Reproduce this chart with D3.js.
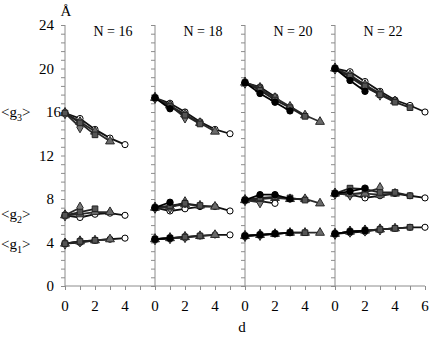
<!DOCTYPE html>
<html>
<head>
<meta charset="utf-8">
<script src="https://cdn.jsdelivr.net/npm/d3@7"></script>
<style>
  body { margin: 0; background: #fff; }
  text { font-family: "Liberation Serif", "DejaVu Serif", serif; }
</style>
</head>
<body>
<div id="chart"></div>
<script>
// Panels and axis ticks
const panelLabels = ["N = 16", "N = 18", "N = 20", "N = 22"];
const yTicks = [0, 4, 8, 12, 16, 20, 24];
const xTickLabels = [[0, 2, 4], [0, 2, 4], [0, 2, 4], [0, 2, 4, 6]];
const dMax = 6;

// N = 16
const seriesN16 = ["diamond", "square", "triangle", "openCircle"];
const g3N16 = [[15.9, 14.6], [15.9, 15.0, 13.9], [15.9, 15.1, 14.2, 13.3], [15.9, 15.4, 14.4, 13.6, 13.0]];
const g2N16 = [[6.5, 7.2], [6.5, 6.8, 7.1], [6.5, 6.6, 6.8, 6.8], [6.5, 6.3, 6.6, 6.7, 6.5]];
const g1N16 = [[3.9, 4.1], [3.9, 4.1, 4.2], [3.9, 4.1, 4.2, 4.3], [3.9, 4.0, 4.2, 4.3, 4.4]];

// N = 18
const seriesN18 = ["filledCircle", "diamond", "square", "triangle", "openCircle"];
const g3N18 = [[17.3, 16.3], [17.3, 16.6, 15.5], [17.3, 16.5, 15.7, 14.9], [17.3, 16.6, 15.8, 15.0, 14.2], [17.3, 16.8, 16.0, 15.1, 14.4, 14.0]];
const g2N18 = [[7.2, 7.7], [7.2, 7.2, 7.7], [7.2, 7.4, 7.6, 7.4], [7.2, 7.3, 7.5, 7.4, 7.3], [7.2, 6.9, 7.1, 7.3, 7.3, 6.9]];
const g1N18 = [[4.3, 4.4], [4.3, 4.4, 4.5], [4.3, 4.4, 4.5, 4.6], [4.3, 4.4, 4.5, 4.6, 4.7], [4.3, 4.4, 4.5, 4.6, 4.7, 4.7]];

// N = 20
const seriesN20 = ["diamond", "openCircle", "filledCircle", "square", "triangle"];
const g3N20 = [[18.7, 18.2], [18.7, 18.3, 17.4], [18.7, 17.7, 16.9, 16.1], [18.7, 18.0, 17.1, 16.4, 15.6], [18.7, 18.1, 17.3, 16.5, 15.7, 15.1]];
const g2N20 = [[7.9, 7.7], [7.9, 7.8, 7.6], [7.9, 8.4, 8.4, 8.0], [7.9, 8.1, 8.2, 8.1, 7.9], [7.9, 8.0, 8.1, 8.0, 8.0, 7.6]];
const g1N20 = [[4.6, 4.7], [4.6, 4.7, 4.8], [4.6, 4.7, 4.8, 4.9], [4.6, 4.7, 4.8, 4.9, 4.9], [4.6, 4.7, 4.8, 4.9, 4.9, 4.9]];

// N = 22
const seriesN22 = ["filledCircle", "diamond", "triangle", "square", "openCircle"];
const g3N22 = [[20.0, 18.9, 17.9], [20.0, 19.2, 18.3, 17.6], [20.0, 19.4, 18.5, 17.7, 17.0], [20.0, 19.3, 18.4, 17.6, 16.9, 16.4], [20.0, 19.7, 18.8, 17.9, 17.1, 16.6, 16.0]];
const g2N22 = [[8.5, 8.7, 9.0], [8.5, 8.4, 8.6, 9.0], [8.5, 8.5, 8.5, 8.4, 8.5], [8.5, 9.0, 8.9, 8.6, 8.6, 8.3], [8.5, 8.4, 8.1, 8.3, 8.5, 8.3, 8.1]];
const g1N22 = [[4.8, 5.0, 5.1], [4.8, 5.0, 5.1, 5.2], [4.8, 5.0, 5.1, 5.2, 5.3], [4.8, 5.0, 5.1, 5.2, 5.3, 5.4], [4.8, 4.9, 5.0, 5.2, 5.3, 5.4, 5.4]];

const panels = [
    { series: seriesN16, groups: [g3N16, g2N16, g1N16] },
    { series: seriesN18, groups: [g3N18, g2N18, g1N18] },
    { series: seriesN20, groups: [g3N20, g2N20, g1N20] },
    { series: seriesN22, groups: [g3N22, g2N22, g1N22] }
];

const width = 430, height = 337;
const plotLeft = 65, plotRight = 425, plotTop = 25, plotBottom = 286;

const svg = d3.select("#chart").append("svg")
    .attr("width", width)
    .attr("height", height)
    .style("display", "block");

// one x scale running through all panels, each panel spanning d = 0..6
const x = d3.scaleLinear()
    .domain([0, panels.length * dMax])
    .range([plotLeft, plotRight]);

const y = d3.scaleLinear()
    .domain([0, 24])
    .range([plotBottom, plotTop]);

const axisColor = "#8c8c8c";

const markerStyle = {
    filledCircle: { type: d3.symbolCircle, size: 32, fill: "#000", stroke: "#000" },
    openCircle: { type: d3.symbolCircle, size: 30, fill: "#fff", stroke: "#000" },
    diamond: { type: d3.symbolDiamond, size: 36, fill: "#7a7a7a", stroke: "#2a2a2a" },
    square: { type: d3.symbolSquare, size: 32, fill: "#555", stroke: "#222" },
    triangle: { type: d3.symbolTriangle, size: 34, fill: "#6a6a6a", stroke: "#2a2a2a" }
};
const lineColor = { filledCircle: "#000", openCircle: "#111", diamond: "#2a2a2a", square: "#222", triangle: "#2a2a2a" };
// open circles go underneath the other series
const drawOrder = ["openCircle", "diamond", "triangle", "square", "filledCircle"];

// Vertical axis for each panel, minor ticks every 0.8 (major / 5)
const minorY = d3.range(0, 24.01, 0.8);
panels.forEach((p, i) => {
    const ax = svg.append("g")
        .attr("transform", `translate(${x(i * dMax)},0)`)
        .call(d3.axisLeft(y).tickValues(minorY).tickSize(4).tickFormat(""));
    ax.selectAll("line").attr("stroke", axisColor);
    ax.select(".domain").attr("stroke", axisColor).attr("d", `M0,${y(0)}V${y(24)}`);
});

// Y tick labels (first panel only)
svg.append("g")
    .selectAll("text")
    .data(yTicks)
    .join("text")
    .attr("x", d => d === 16 ? 61 : 54)
    .attr("y", d => y(d) + 5)
    .attr("text-anchor", "end")
    .attr("font-size", 15)
    .attr("fill", "#000")
    .text(d => d);

// X axis with ticks at every integer d
const xAll = d3.range(0, panels.length * dMax + 1);
const xAx = svg.append("g")
    .attr("transform", `translate(0,${plotBottom})`)
    .call(d3.axisBottom(x).tickValues(xAll).tickSize(4).tickFormat(""));
xAx.selectAll("line").attr("stroke", axisColor);
xAx.select(".domain").attr("stroke", axisColor).attr("d", `M${plotLeft},0H${plotRight}`);

// X tick labels
xTickLabels.forEach((labels, i) => {
    svg.append("g")
        .selectAll("text")
        .data(labels)
        .join("text")
        .attr("x", d => x(i * dMax + d))
        .attr("y", plotBottom + 25)
        .attr("text-anchor", "middle")
        .attr("font-size", 15)
        .text(d => d);
});

// Series
const line = d3.line()
    .x(d => d.x)
    .y(d => d.y);

panels.forEach((p, i) => {
    p.groups.forEach(group => {
        const order = d3.range(group.length)
            .sort((a, b) => drawOrder.indexOf(p.series[a]) - drawOrder.indexOf(p.series[b]));
        order.forEach(s => {
            const kind = p.series[s];
            const st = markerStyle[kind];
            const pts = group[s].map((v, d) => ({ x: x(i * dMax + d), y: y(v) }));
            svg.append("path")
                .datum(pts)
                .attr("fill", "none")
                .attr("stroke", lineColor[kind])
                .attr("stroke-width", 1.8)
                .attr("d", line);
            svg.append("g")
                .selectAll("path")
                .data(group[s])
                .join("path")
                .attr("transform", (v, d) => `translate(${x(i * dMax + d)},${y(v)})`)
                .attr("d", d3.symbol().type(st.type).size(st.size))
                .attr("fill", st.fill)
                .attr("stroke", st.stroke)
                .attr("stroke-width", 1);
        });
    });
});

// Panel titles
svg.append("g")
    .selectAll("text")
    .data(panelLabels)
    .join("text")
    .attr("x", (d, i) => x(i * dMax + 3.2))
    .attr("y", 36)
    .attr("text-anchor", "middle")
    .attr("font-size", 14)
    .text(d => d);

// Unit and axis title
svg.append("text")
    .attr("x", plotLeft + 1)
    .attr("y", 16)
    .attr("text-anchor", "middle")
    .attr("font-size", 15)
    .text("Å");

svg.append("text")
    .attr("x", x(2 * dMax - 0.2))
    .attr("y", 332)
    .attr("text-anchor", "middle")
    .attr("font-size", 15)
    .text("d");

// <g1>, <g2>, <g3> labels
const gLabels = [
    { sub: "3", yv: 16 },
    { sub: "2", yv: 6.6 },
    { sub: "1", yv: 3.9 }
];
gLabels.forEach(g => {
    const t = svg.append("text")
        .attr("x", 1)
        .attr("y", y(g.yv) + 5)
        .attr("font-size", 15);
    t.append("tspan").text("<g");
    t.append("tspan").attr("font-size", 10).attr("dy", 4).text(g.sub);
    t.append("tspan").attr("dy", -4).text(">");
});
</script>
</body>
</html>
